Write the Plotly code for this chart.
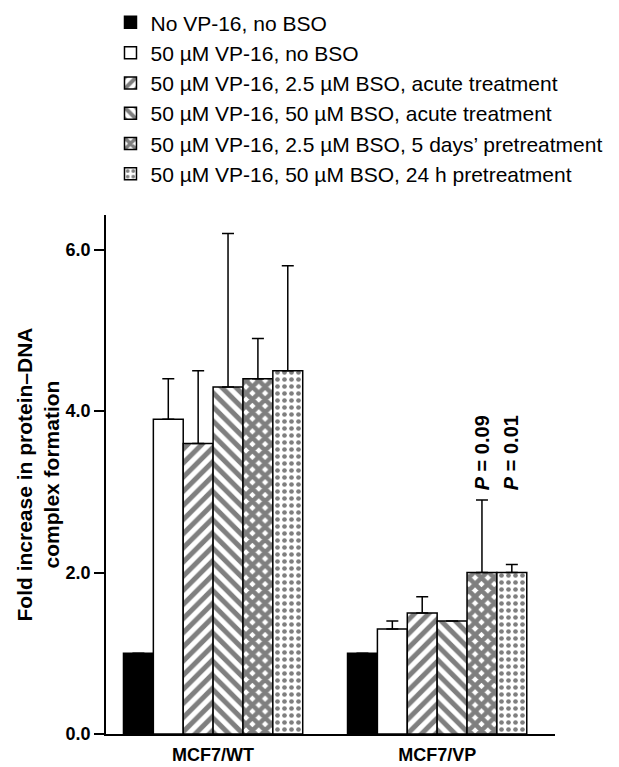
import plotly.graph_objects as go

categories = ["MCF7/WT", "MCF7/VP"]
series_names = [
    "No VP-16, no BSO",
    "50 µM VP-16, no BSO",
    "50 µM VP-16, 2.5 µM BSO, acute treatment",
    "50 µM VP-16, 50 µM BSO, acute treatment",
    "50 µM VP-16, 2.5 µM BSO, 5 days’ pretreatment",
    "50 µM VP-16, 50 µM BSO, 24 h pretreatment",
]
values = [
    [1.0, 1.0],
    [3.9, 1.3],
    [3.6, 1.5],
    [4.3, 1.4],
    [4.4, 2.0],
    [4.5, 2.0],
]
errors = [
    [None, None],
    [0.5, 0.1],
    [0.9, 0.2],
    [1.9, None],
    [0.5, 0.9],
    [1.3, 0.1],
]
p_labels = ["<i>P</i> = 0.09", "<i>P</i> = 0.01"]

styles = [
    dict(color="black", pattern=dict(shape="")),
    dict(color="white", pattern=dict(shape="")),
    dict(color="white", pattern=dict(shape="/", fgcolor="black", size=10, solidity=0.5)),
    dict(color="white", pattern=dict(shape="\\", fgcolor="black", size=10, solidity=0.5)),
    dict(color="white", pattern=dict(shape="x", fgcolor="black", size=9, solidity=0.75)),
    dict(color="white", pattern=dict(shape=".", fgcolor="black", size=7, solidity=0.35)),
]

FONT = "Liberation Sans"

fig = go.Figure()
for i, name in enumerate(series_names):
    err = errors[i]
    fig.add_trace(go.Bar(
        x=categories,
        y=values[i],
        name=name,
        legendgroup=f"g{i}",
        marker=dict(color=styles[i]["color"], pattern=styles[i]["pattern"],
                    line=dict(color="black", width=1.5)),
        error_y=dict(type="data", symmetric=False,
                     array=[e if e is not None else 0 for e in err],
                     arrayminus=[0, 0],
                     visible=True, color="black", thickness=1.5, width=6),
    ))

# p-value annotations above the error bars of the last two series for MCF7/VP
n = len(series_names)
top = max(values[si][1] + (errors[si][1] or 0) for si in [4, 5])
for si, lab in zip([4, 5], p_labels):
    offset = (si - (n - 1) / 2) * (0.8 / n)
    fig.add_annotation(
        x=1 + offset, y=top + 0.1, xref="x", yref="y",
        text=lab, textangle=-90, showarrow=False,
        xanchor="center", yanchor="bottom",
        font=dict(family=FONT, size=20, color="black", weight="bold"),
    )

fig.update_layout(
    width=611, height=759,
    margin=dict(l=98, r=64, t=207, b=33, autoexpand=False),
    plot_bgcolor="white", paper_bgcolor="white",
    barmode="group", bargap=0.2, bargroupgap=0,
    font=dict(family=FONT, color="black"),
    showlegend=True,
    legend=dict(x=0.01, y=1.41, xanchor="left", yanchor="top",
                font=dict(size=21, family=FONT, color="black"),
                tracegroupgap=0, itemwidth=30, bgcolor="rgba(0,0,0,0)"),
    xaxis=dict(range=[-0.478, 1.526], showline=True, linecolor="black", linewidth=1.5,
               ticks="", automargin=False, ticklabelstandoff=4,
               tickfont=dict(size=18, family=FONT, weight="bold"),
               showgrid=False, zeroline=False),
    yaxis=dict(range=[0, 6.43], showline=True, linecolor="black", linewidth=1.5,
               ticks="outside", ticklen=10, tickwidth=1.5, tickcolor="black",
               tickvals=[0, 2, 4, 6], tickformat=".1f", automargin=False,
               tickfont=dict(size=18, family=FONT, weight="bold"),
               showgrid=False, zeroline=False,
               title=dict(text="Fold increase in protein–DNA<br>complex formation",
                          font=dict(size=21, family=FONT, weight="bold"),
                          standoff=0)),
)

fig.write_html("out.html")
